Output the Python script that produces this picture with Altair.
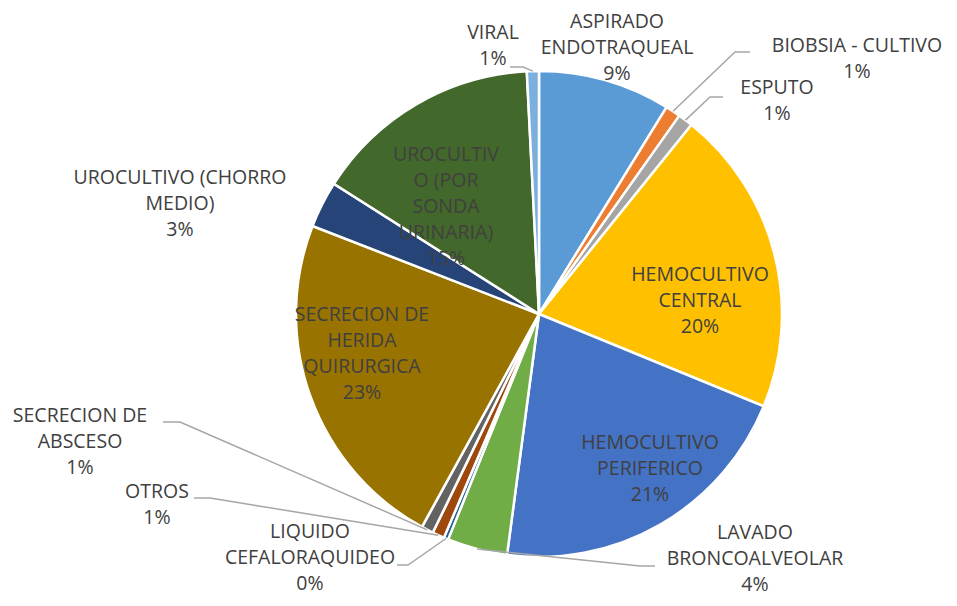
import altair as alt
import pandas as pd
import numpy as np

# ---- data ----
categories = [
    "ASPIRADO ENDOTRAQUEAL", "BIOBSIA - CULTIVO", "ESPUTO", "HEMOCULTIVO CENTRAL",
    "HEMOCULTIVO PERIFERICO", "LAVADO BRONCOALVEOLAR", "LIQUIDO CEFALORAQUIDEO",
    "OTROS", "SECRECION DE ABSCESO", "SECRECION DE HERIDA QUIRURGICA",
    "UROCULTIVO (CHORRO MEDIO)", "UROCULTIVO (POR SONDA URINARIA)", "VIRAL",
]
values = [8.8, 1.0, 1.0, 20.4, 20.9, 4.0, 0.3, 0.8, 0.8, 22.9, 3.1, 15.2, 0.8]
label_lines = [
    ["ASPIRADO", "ENDOTRAQUEAL"], ["BIOBSIA - CULTIVO"], ["ESPUTO"],
    ["HEMOCULTIVO", "CENTRAL"], ["HEMOCULTIVO", "PERIFERICO"],
    ["LAVADO", "BRONCOALVEOLAR"], ["LIQUIDO", "CEFALORAQUIDEO"], ["OTROS"],
    ["SECRECION DE", "ABSCESO"], ["SECRECION DE", "HERIDA", "QUIRURGICA"],
    ["UROCULTIVO (CHORRO", "MEDIO)"], ["UROCULTIV", "O (POR", "SONDA", "URINARIA)"],
    ["VIRAL"],
]

# ---- styles / layout ----
colors = ["#5B9BD5", "#ED7D31", "#A5A5A5", "#FFC000", "#4472C4", "#70AD47", "#255E91",
          "#9E480E", "#636363", "#997300", "#264478", "#43682B", "#7CAFDD"]
W, H = 941, 590
CX, CY, R = 531, 306, 243
# first-line centre of each label block (view pixels)
label_pos = [(609, 14), (849, 38), (769, 80), (692, 267), (642, 435), (747, 525),
             (302, 524), (149, 484), (72, 408), (354, 307), (172, 170), (438, 147),
             (485, 25)]
# leader lines: (category index, [elbow, end]) in view pixels
leaders = [
    (12, [(515, 59), (502, 59)]),
    (1, [(727, 44), (742, 44)]),
    (2, [(702, 89), (715, 89)]),
    (5, [(632, 558), (647, 558)]),
    (6, [(400, 557), (389, 557)]),
    (7, [(202, 490), (186, 490)]),
    (8, [(172, 414), (155, 414)]),
]

total = float(sum(values))
pct = [f"{round(v / total * 100):.0f}%" for v in values]

df = pd.DataFrame({"idx": list(range(len(categories))), "category": categories, "value": values})

lab = pd.DataFrame({
    "category": categories,
    "text": ["\n".join(l + [p]) for l, p in zip(label_lines, pct)],
    "lx": [p[0] for p in label_pos],
    "ly": [p[1] for p in label_pos],
})

vals = np.array(values)
mid = (np.cumsum(vals) - vals / 2) / total * 2 * np.pi
rows = []
for ci, pts in leaders:
    sx = CX + R * np.sin(mid[ci])
    sy = CY - R * np.cos(mid[ci])
    seq = [(sx, sy)] + pts
    for k, (px, py) in enumerate(seq):
        rows.append({"cat": categories[ci], "seq": k, "px": float(px), "py": float(py)})
lead = pd.DataFrame(rows)

arcs = alt.Chart(df).mark_arc(outerRadius=R, stroke="white", strokeWidth=2.5).encode(
    theta=alt.Theta("value:Q", stack=True),
    order=alt.Order("idx:Q"),
    color=alt.Color("category:N", scale=alt.Scale(domain=categories, range=colors), legend=None),
    x=alt.value(CX),
    y=alt.value(CY),
)

lines = alt.Chart(lead).mark_line(color="#A6A6A6", strokeWidth=1.5).encode(
    x=alt.X("px:Q", scale=None, axis=None),
    y=alt.Y("py:Q", scale=None, axis=None),
    detail="cat:N",
    order="seq:Q",
)

texts = alt.Chart(lab).mark_text(
    font="Open Sans", fontSize=19.5, color="#404040", lineHeight=26,
    align="center", baseline="middle", lineBreak="\n",
).encode(
    x=alt.X("lx:Q", scale=None, axis=None),
    y=alt.Y("ly:Q", scale=None, axis=None),
    text="text:N",
)

chart = alt.layer(arcs, lines, texts).properties(
    width=W, height=H, padding=0, autosize=alt.AutoSizeParams(type="none"),
).configure_view(stroke=None)

chart.save("out.html", embed_options={"renderer": "svg", "actions": False})
